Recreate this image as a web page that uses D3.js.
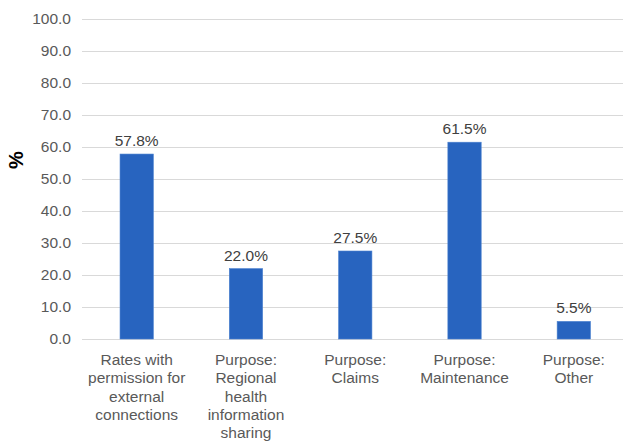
<!DOCTYPE html>
<html>
<head>
<meta charset="utf-8">
<script src="https://cdn.jsdelivr.net/npm/d3@7"></script>
<style>
  html, body { margin: 0; padding: 0; background: #fff; }
  svg { display: block; font-family: Arial, "Liberation Sans", sans-serif; }
</style>
</head>
<body>
<svg id="chart" width="623" height="442"></svg>
<script>
// Categories (multi-line labels) and their percentages
const categories = [
  ["Rates with", "permission for", "external", "connections"],
  ["Purpose:", "Regional", "health", "information", "sharing"],
  ["Purpose:", "Claims"],
  ["Purpose:", "Maintenance"],
  ["Purpose:", "Other"]
];
const values = [57.8, 22.0, 27.5, 61.5, 5.5];
const yTicks = [0, 10, 20, 30, 40, 50, 60, 70, 80, 90, 100];
const yTitle = "%";

const svg = d3.select("#chart");
const keys = categories.map((c, i) => i);

const x = d3.scaleBand()
  .domain(keys)
  .range([82, 628.5])
  .paddingInner(0.695)
  .paddingOuter(0.348);

const y = d3.scaleLinear().domain([0, 100]).range([339, 19]);

// Horizontal gridlines
svg.append("g")
  .selectAll("line")
  .data(yTicks)
  .join("line")
  .attr("x1", 82).attr("x2", 623)
  .attr("y1", d => y(d) + 0.5).attr("y2", d => y(d) + 0.5)
  .attr("stroke", "#d9d9d9")
  .attr("stroke-width", 1);

// Y axis tick labels
const yAxis = d3.axisLeft(y).tickValues(yTicks).tickFormat(d3.format(".1f")).tickSize(0).tickPadding(0);
svg.append("g")
  .attr("transform", "translate(71,0)")
  .call(yAxis)
  .call(g => g.select(".domain").remove())
  .selectAll("text")
  .attr("fill", "#595959")
  .attr("font-size", "15.5px")
  .attr("font-family", "Arial, 'Liberation Sans', sans-serif");

// Y axis title
svg.append("text")
  .attr("transform", "translate(23,160) rotate(-90)")
  .attr("text-anchor", "middle")
  .attr("font-size", "20px")
  .attr("font-weight", "bold")
  .attr("fill", "#000")
  .text(yTitle);

// Bars
svg.append("g")
  .selectAll("rect")
  .data(values)
  .join("rect")
  .attr("x", (d, i) => x(i))
  .attr("width", x.bandwidth())
  .attr("y", d => y(d))
  .attr("height", d => y(0) - y(d))
  .attr("fill", "#2864BF")
  .attr("stroke", "#4a80cf")
  .attr("stroke-width", 0.6);

// Value labels
svg.append("g")
  .selectAll("text")
  .data(values)
  .join("text")
  .attr("x", (d, i) => x(i) + x.bandwidth() / 2)
  .attr("y", d => y(d) - 8)
  .attr("text-anchor", "middle")
  .attr("font-size", "15.5px")
  .attr("fill", "#404040")
  .text(d => d3.format(".1f")(d) + "%");

// Category labels
const labels = svg.append("g")
  .selectAll("text")
  .data(categories)
  .join("text")
  .attr("x", (d, i) => x(i) + x.bandwidth() / 2)
  .attr("y", 365)
  .attr("text-anchor", "middle")
  .attr("font-size", "15.5px")
  .attr("fill", "#595959");

labels.selectAll("tspan")
  .data((d, i) => d.map(line => ({ line, cx: x(i) + x.bandwidth() / 2 })))
  .join("tspan")
  .attr("x", d => d.cx)
  .attr("dy", (d, j) => j === 0 ? 0 : 18.3)
  .text(d => d.line);
</script>
</body>
</html>
